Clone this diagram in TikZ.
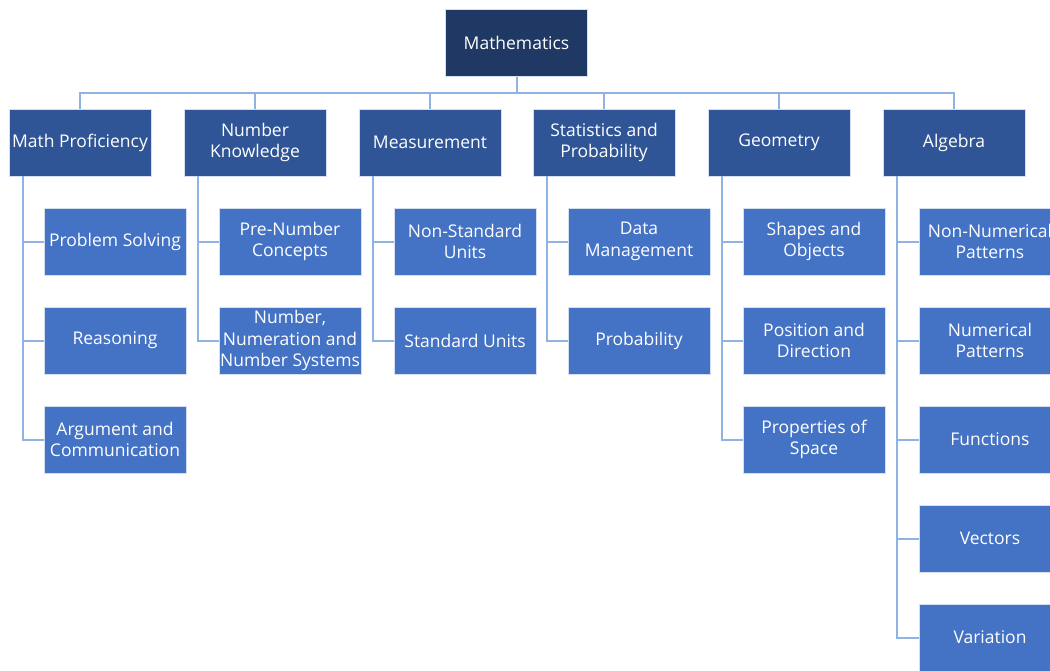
\documentclass[tikz,border=0pt]{standalone}
\usepackage{fontspec}
\setmainfont{Open Sans}

\definecolor{navy}{HTML}{203864}
\definecolor{midblue}{HTML}{2F5597}
\definecolor{leafblue}{HTML}{4472C4}
\definecolor{linkblue}{HTML}{8FB4E3}
\definecolor{rim}{HTML}{D6DFEF}

\tikzset{
  box/.style={draw=rim, line width=0.8pt, text=white, minimum width=142pt,
    minimum height=67pt, inner sep=0pt, align=center,
    font=\fontsize{17.5}{21.5}\selectfont},
  topbox/.style={box, fill=navy},
  branch/.style={box, fill=midblue},
  leaf/.style={box, fill=leafblue},
  link/.style={draw=linkblue, line width=2pt},
}

\begin{document}
\begin{tikzpicture}[x=1pt, y=-1pt]
    \useasboundingbox (0,0) rectangle (1050,670);
    \clip (0,0) rectangle (1050,670);

    % top
    \node[topbox] (math) at (516.5,43) {Mathematics};

    % branches
    \node[branch] (prof) at (80,142.5) {Math Proficiency};
    \node[branch] (numk) at (255,142.5) {Number\\Knowledge};
    \node[branch] (meas) at (430,142.5) {Measurement};
    \node[branch] (stat) at (604,142.5) {Statistics and\\Probability};
    \node[branch] (geom) at (779,142.5) {Geometry};
    \node[branch] (alg) at (954,142.5) {Algebra};

    % leaves
    \node[leaf] (solv) at (115,241.5) {Problem Solving};
    \node[leaf] (reas) at (115,340.5) {Reasoning};
    \node[leaf] (argu) at (115,439.5) {Argument and\\Communication};

    \node[leaf] (prenum) at (290,241.5) {Pre-Number\\Concepts};
    \node[leaf] (numsys) at (290,340.5) {Number,\\Numeration and\\Number Systems};

    \node[leaf] (nonstd) at (465,241.5) {Non-Standard\\Units};
    \node[leaf] (std) at (465,340.5) {Standard Units};

    \node[leaf] (data) at (639,241.5) {Data\\Management};
    \node[leaf] (prob) at (639,340.5) {Probability};

    \node[leaf] (shape) at (814,241.5) {Shapes and\\Objects};
    \node[leaf] (posdir) at (814,340.5) {Position and\\Direction};
    \node[leaf] (space) at (814,439.5) {Properties of\\Space};

    \node[leaf] (nonpat) at (990,241.5) {Non-Numerical\\Patterns};
    \node[leaf] (numpat) at (990,340.5) {Numerical\\Patterns};
    \node[leaf] (func) at (990,439.5) {Functions};
    \node[leaf] (vect) at (990,538.5) {Vectors};
    \node[leaf] (vari) at (990,637.5) {Variation};

    % bus
    \coordinate (bus) at (516.5,93);
    \draw[link] (math.south) -- (bus);
    \foreach \b in {prof,numk,meas,stat,geom,alg}
        \draw[link] (bus) -| (\b.north);

    % branch to leaves
    \foreach \b/\l in {prof/solv,prof/reas,prof/argu,numk/prenum,numk/numsys,
                       meas/nonstd,meas/std,stat/data,stat/prob,
                       geom/shape,geom/posdir,geom/space,
                       alg/nonpat,alg/numpat,alg/func,alg/vect,alg/vari}
        \draw[link] ([xshift=14pt]\b.south west) |- (\l.west);

\end{tikzpicture}
\end{document}
